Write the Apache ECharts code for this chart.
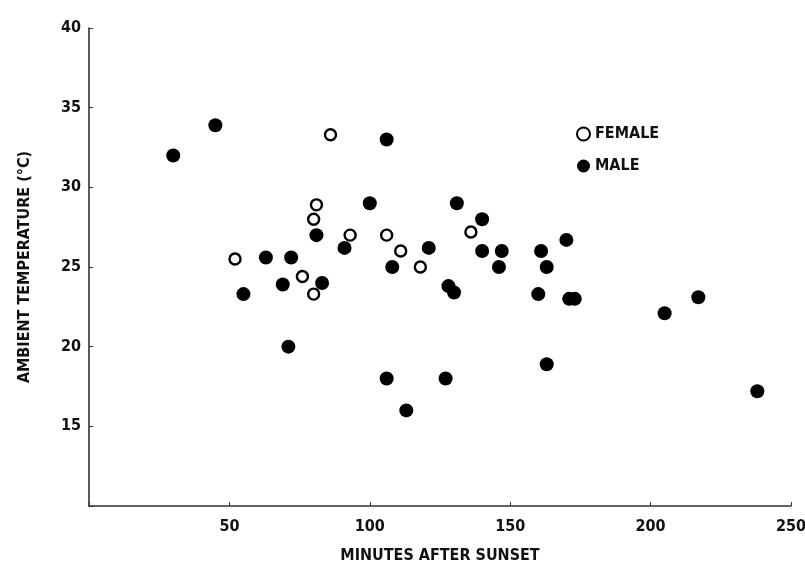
<!DOCTYPE html>
<html>
<head>
<meta charset="utf-8">
<script src="https://cdn.jsdelivr.net/npm/echarts@6/dist/echarts.min.js"></script>
<style>html,body{margin:0;padding:0;background:#fff}#c{width:805px;height:564px}</style>
</head>
<body>
<div id="c"></div>
<script>
var femaleX = [86, 81, 80, 93, 106, 136, 111, 118, 52, 76, 80];
var femaleY = [33.3, 28.9, 28.0, 27.0, 27.0, 27.2, 26.0, 25.0, 25.5, 24.4, 23.3];
var maleX = [30, 45, 106, 100, 131, 140, 170, 81, 91, 121, 140, 147, 161, 108, 146, 163, 63, 72, 55, 69, 83, 128, 130, 160, 171, 173, 163, 106, 127, 113, 205, 217, 238, 71];
var maleY = [32.0, 33.9, 33.0, 29.0, 29.0, 28.0, 26.7, 27.0, 26.2, 26.2, 26.0, 26.0, 26.0, 25.0, 25.0, 25.0, 25.6, 25.6, 23.3, 23.9, 24.0, 23.8, 23.4, 23.3, 23.0, 23.0, 18.9, 18.0, 18.0, 16.0, 22.1, 23.1, 17.2, 20.0];
var xTicks = [50, 100, 150, 200, 250];
var yTicks = [15, 20, 25, 30, 35, 40];
var xName = 'MINUTES AFTER SUNSET';
var yName = 'AMBIENT TEMPERATURE (°C)';
var seriesNames = ['FEMALE', 'MALE'];

function pairs(xs, ys) { return xs.map(function (x, i) { return [x, ys[i]]; }); }

var FONT = '"DejaVu Sans Condensed", "DejaVu Sans", sans-serif';
var INK = '#111';

var chart = echarts.init(document.getElementById('c'));
chart.setOption({
  animation: false,
  backgroundColor: '#ffffff',
  grid: { left: 89, right: 14, top: 28, bottom: 58, containLabel: false, outerBoundsMode: 'none' },
  legend: {
    orient: 'vertical',
    left: 571,
    top: 121,
    itemWidth: 13,
    itemHeight: 13,
    itemGap: 16,
    textStyle: { color: INK, fontFamily: FONT, fontSize: 16, fontWeight: 'bold' },
    data: [
      { name: seriesNames[0], icon: 'circle' },
      { name: seriesNames[1], icon: 'circle' }
    ]
  },
  xAxis: {
    type: 'value', min: 0, max: 250, interval: 50,
    name: xName, nameLocation: 'middle', nameGap: 42,
    nameTextStyle: { color: INK, fontFamily: FONT, fontSize: 16, fontWeight: 'bold' },
    axisLine: { show: true, onZero: false, lineStyle: { color: '#333', width: 1.6 } },
    axisTick: { show: true, inside: true, length: 4, lineStyle: { color: '#333' } },
    splitLine: { show: false },
    axisLabel: {
      color: INK, fontFamily: FONT, fontSize: 16, fontWeight: 'bold', margin: 13,
      formatter: function (v) { return xTicks.indexOf(v) >= 0 ? String(v) : ''; }
    }
  },
  yAxis: {
    type: 'value', min: 10, max: 40, interval: 5,
    name: yName, nameLocation: 'middle', nameGap: 56, nameRotate: 90,
    nameTextStyle: { color: INK, fontFamily: FONT, fontSize: 16, fontWeight: 'bold' },
    axisLine: { show: true, onZero: false, lineStyle: { color: '#333', width: 1.6 } },
    axisTick: { show: true, inside: true, length: 4, lineStyle: { color: '#333' } },
    splitLine: { show: false },
    axisLabel: {
      color: INK, fontFamily: FONT, fontSize: 16, fontWeight: 'bold', margin: 8,
      formatter: function (v) { return yTicks.indexOf(v) >= 0 ? String(v) : ''; }
    }
  },
  series: [
    {
      name: seriesNames[0], type: 'scatter', symbol: 'circle', symbolSize: 11,
      itemStyle: { color: '#ffffff', borderColor: '#000', borderWidth: 2.4, opacity: 1 },
      data: pairs(femaleX, femaleY), z: 3
    },
    {
      name: seriesNames[1], type: 'scatter', symbol: 'circle', symbolSize: 14,
      itemStyle: { color: '#000', borderColor: '#000', borderWidth: 0, opacity: 1 },
      data: pairs(maleX, maleY), z: 2
    }
  ]
});
</script>
</body>
</html>
